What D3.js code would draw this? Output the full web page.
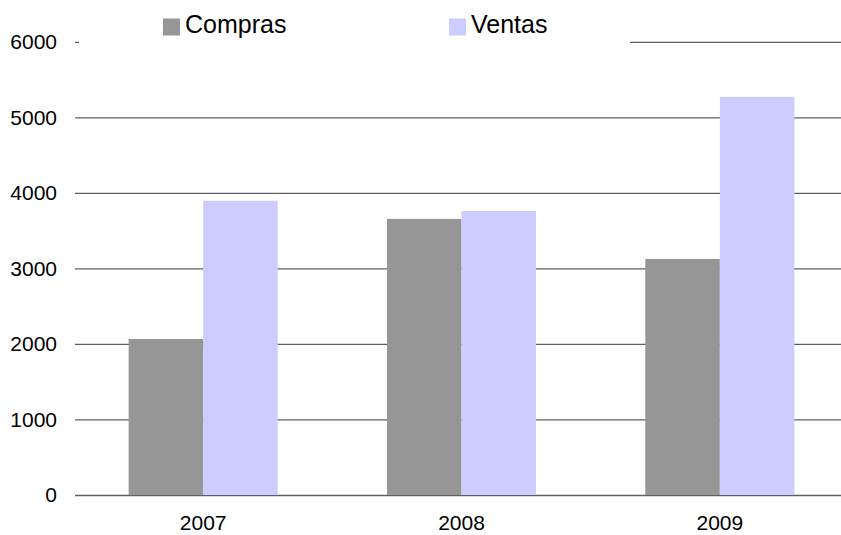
<!DOCTYPE html>
<html>
<head>
<meta charset="utf-8">
<script src="https://cdn.jsdelivr.net/npm/d3@7"></script>
<style>
  body { margin: 0; background: #fff; }
  text { font-family: "Liberation Sans", Arial, sans-serif; }
</style>
</head>
<body>
<div id="chart"></div>
<script>
// data
const years = ["2007", "2008", "2009"];
const seriesNames = ["Compras", "Ventas"];
const compras = [2065, 3655, 3125];
const ventas = [3895, 3760, 5270];
const yTicks = [0, 1000, 2000, 3000, 4000, 5000, 6000];

const colors = {Compras: "#969696", Ventas: "#ccccff"};

const width = 841, height = 535;
const plotLeft = 75;

const svg = d3.select("#chart").append("svg")
  .attr("width", width)
  .attr("height", height);

const rows = years.map((yr, i) => ({year: yr, Compras: compras[i], Ventas: ventas[i]}));

// the category bands run a little past the right edge, as in the original
const x0 = d3.scaleBand()
  .domain(years)
  .range([74, 849])
  .paddingInner(0.423)
  .paddingOuter(0.2115);

const x1 = d3.scaleBand()
  .domain(seriesNames)
  .range([0, x0.bandwidth()]);

const y = d3.scaleLinear()
  .domain([0, 6000])
  .range([495, 41.8]);

// gridlines + y labels
const yAxis = svg.append("g")
  .attr("transform", `translate(${plotLeft},0)`)
  .call(d3.axisLeft(y).tickValues(yTicks).tickFormat(d3.format("d"))
    .tickSize(-(width - plotLeft)).tickPadding(18));
yAxis.select(".domain").remove();
yAxis.selectAll(".tick line").attr("stroke", "#5f5f5f").attr("stroke-width", 1.3);
yAxis.selectAll(".tick text").attr("fill", "#000").style("font-size", "21px");

// bars
const groups = svg.append("g").selectAll("g")
  .data(rows)
  .enter().append("g")
  .attr("transform", d => `translate(${x0(d.year)},0)`);

groups.selectAll("rect")
  .data(d => seriesNames.map(k => ({key: k, value: d[k]})))
  .enter().append("rect")
  .attr("x", d => x1(d.key))
  .attr("y", d => y(d.value))
  .attr("width", x1.bandwidth())
  .attr("height", d => y(0) - y(d.value))
  .attr("fill", d => colors[d.key]);

// x labels
const xAxis = svg.append("g")
  .attr("transform", `translate(0,${y(0)})`)
  .call(d3.axisBottom(x0).tickSize(0).tickPadding(20));
xAxis.select(".domain").remove();
xAxis.selectAll(".tick text").attr("fill", "#000").style("font-size", "21px");

// legend (white box hides part of the top gridline)
svg.append("rect")
  .attr("x", 79).attr("y", 0)
  .attr("width", 551).attr("height", 50)
  .attr("fill", "#fff");

const legendX = [163, 449];
const legend = svg.selectAll(".legend")
  .data(seriesNames)
  .enter().append("g")
  .attr("class", "legend")
  .attr("transform", (d, i) => `translate(${legendX[i]},0)`);

legend.append("rect")
  .attr("x", 0).attr("y", 18.5)
  .attr("width", 17).attr("height", 17)
  .attr("fill", d => colors[d]);

legend.append("text")
  .attr("x", 22)
  .attr("y", 33)
  .style("font-size", "25px")
  .attr("fill", "#000")
  .text(d => d);
</script>
</body>
</html>
